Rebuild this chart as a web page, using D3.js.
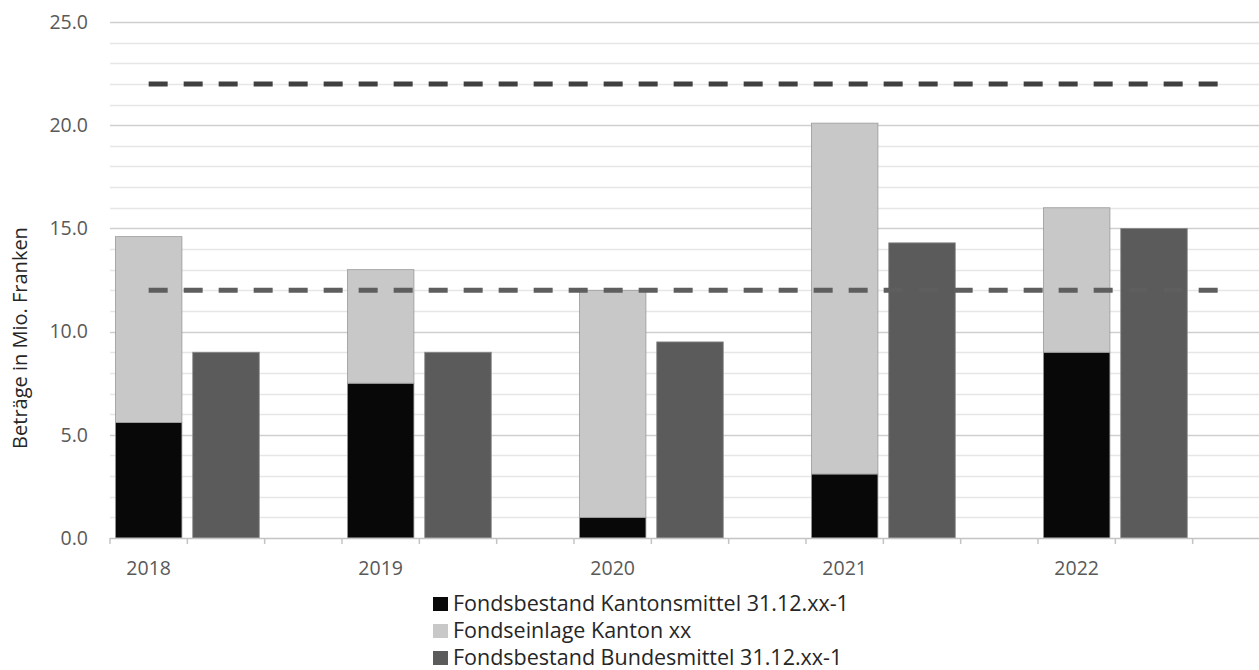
<!DOCTYPE html>
<html>
<head>
<meta charset="utf-8">
<script src="https://cdn.jsdelivr.net/npm/d3@7"></script>
<style>
  html, body { margin: 0; padding: 0; background: #fff; }
  svg { display: block; }
  text { font-family: "Open Sans", "Noto Sans", sans-serif; }
</style>
</head>
<body>
<svg id="chart" width="1259" height="670"></svg>
<script>
// Years and the three fund series (Mio. Franken)
const years = ["2018", "2019", "2020", "2021", "2022"];
const kantonsmittel = [5.6, 7.5, 1.0, 3.1, 9.0];      // Fondsbestand Kantonsmittel 31.12.xx-1
const einlageKanton = [9.0, 5.5, 11.0, 17.0, 7.0];    // Fondseinlage Kanton xx (stacked on top)
const bundesmittel = [9.0, 9.0, 9.5, 14.3, 15.0];     // Fondsbestand Bundesmittel 31.12.xx-1
const referenceLines = [22.0, 12.0];
const yTicks = [0, 5, 10, 15, 20, 25];
const seriesNames = [
  "Fondsbestand Kantonsmittel 31.12.xx-1",
  "Fondseinlage Kanton xx",
  "Fondsbestand Bundesmittel 31.12.xx-1"
];
const colors = ["#080808", "#c8c8c8", "#5b5b5b"];

const svg = d3.select("#chart");
const margin = { left: 110, top: 22, bottom: 132 };
const plotW = 1160;
const plotH = 670 - margin.top - margin.bottom;

// Each year occupies three slots: stacked bar, federal bar, empty spacer
const slots = [];
years.forEach(y => { slots.push(y + "|a", y + "|b", y + "|c"); });

const x = d3.scaleBand().domain(slots).range([margin.left, margin.left + plotW])
  .paddingInner(0.14).paddingOuter(0.07);
const slotW = plotW / slots.length;
const y = d3.scaleLinear().domain([0, 25]).range([margin.top + plotH, margin.top]);

// Minor gridlines (every 1.0)
const minor = d3.range(1, 25).filter(v => v % 5 !== 0);
svg.append("g").selectAll("line").data(minor).join("line")
  .attr("x1", margin.left).attr("x2", 1259)
  .attr("y1", d => Math.round(y(d)) + 0.5).attr("y2", d => Math.round(y(d)) + 0.5)
  .attr("stroke", "#e6e6e6").attr("stroke-width", 1.5);

// Major gridlines
svg.append("g").selectAll("line").data(yTicks.filter(v => v > 0)).join("line")
  .attr("x1", margin.left).attr("x2", 1259)
  .attr("y1", d => Math.round(y(d)) + 0.5).attr("y2", d => Math.round(y(d)) + 0.5)
  .attr("stroke", "#cfcfcf").attr("stroke-width", 1.5);

// Y axis labels
const yAxis = d3.axisLeft(y).tickValues(yTicks).tickFormat(d3.format(".1f")).tickSize(0).tickPadding(0);
const gy = svg.append("g").attr("transform", `translate(88,0)`).call(yAxis);
gy.select(".domain").remove();
gy.selectAll("text").attr("font-size", 19.5).attr("fill", "#595959")
  .attr("font-family", "'Open Sans', sans-serif");

// Stacked bars: Kantonsmittel + Einlage
const stackData = years.map((yr, i) => ({ year: yr, k: kantonsmittel[i], e: einlageKanton[i] }));
const stacked = d3.stack().keys(["k", "e"])(stackData);
svg.append("g").selectAll("g").data(stacked).join("g")
  .attr("fill", (d, i) => colors[i])
  .selectAll("rect").data(d => d).join("rect")
  .attr("x", d => x(d.data.year + "|a"))
  .attr("width", x.bandwidth())
  .attr("y", d => y(d[1]))
  .attr("height", d => y(d[0]) - y(d[1]))
  .attr("stroke", "#9a9a9a").attr("stroke-width", 0.8);

// Bundesmittel bars
svg.append("g").selectAll("rect").data(years).join("rect")
  .attr("x", d => x(d + "|b"))
  .attr("width", x.bandwidth())
  .attr("y", (d, i) => y(bundesmittel[i]))
  .attr("height", (d, i) => y(0) - y(bundesmittel[i]))
  .attr("fill", colors[2])
  .attr("stroke", "#8a8a8a").attr("stroke-width", 0.8);

// X axis baseline and slot ticks
const x0 = margin.left;
svg.append("line").attr("x1", x0).attr("x2", 1259)
  .attr("y1", y(0) + 0.5).attr("y2", y(0) + 0.5)
  .attr("stroke", "#c4c4c4").attr("stroke-width", 1.5);
const tickPos = d3.range(slots.length + 1).map(i => x0 + i * slotW);
svg.append("g").selectAll("line").data(tickPos).join("line")
  .attr("x1", d => d).attr("x2", d => d)
  .attr("y1", y(0)).attr("y2", y(0) + 6)
  .attr("stroke", "#c4c4c4").attr("stroke-width", 1.5);

// Year labels
svg.append("g").selectAll("text").data(years).join("text")
  .attr("x", d => x0 + slots.indexOf(d + "|a") * slotW + slotW / 2)
  .attr("y", 575)
  .attr("text-anchor", "middle")
  .attr("font-size", 19.5).attr("fill", "#595959")
  .text(d => d);

// Dashed reference lines
const lineStart = x0 + slotW / 2;
const lineEnd = x0 + (slots.length - 0.5) * slotW;
svg.append("g").selectAll("line").data(referenceLines).join("line")
  .attr("x1", lineStart).attr("x2", lineEnd)
  .attr("y1", d => y(d)).attr("y2", d => y(d))
  .attr("stroke", (d, i) => i === 0 ? "#404040" : "#5e5e5e")
  .attr("stroke-width", 5)
  .attr("stroke-dasharray", "19 16");

// Y axis title
svg.append("text")
  .attr("transform", `translate(27,338) rotate(-90)`)
  .attr("text-anchor", "middle")
  .attr("font-size", 20).attr("fill", "#262626")
  .text("Beträge in Mio. Franken");

// Legend
const legend = svg.append("g").attr("transform", "translate(433,0)");
seriesNames.forEach((name, i) => {
  const base = 611 + i * 27;
  legend.append("rect").attr("x", 0).attr("y", base - 14).attr("width", 15).attr("height", 14).attr("fill", colors[i]);
  legend.append("text").attr("x", 20).attr("y", base)
    .attr("font-size", 21.5).attr("fill", "#262626").text(name);
});
</script>
</body>
</html>
